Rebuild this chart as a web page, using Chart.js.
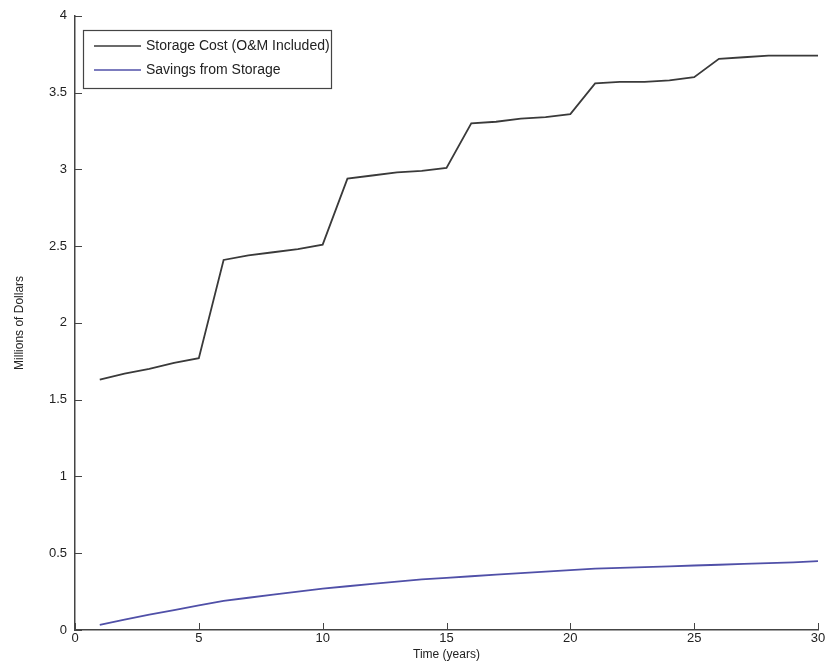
<!DOCTYPE html>
<html>
<head>
<meta charset="utf-8">
<script src="https://cdn.jsdelivr.net/npm/chart.js@4"></script>
<style>
  html, body { margin: 0; padding: 0; background: #fff; }
  #wrap { width: 828px; height: 662px; }
</style>
</head>
<body>
<div id="wrap"><canvas id="chart"></canvas></div>
<script>
// values
const years = [1, 2, 3, 4, 5, 6, 7, 8, 9, 10, 11, 12, 13, 14, 15,
  16, 17, 18, 19, 20, 21, 22, 23, 24, 25, 26, 27, 28, 29, 30];
const storageCost = [1.63, 1.67, 1.70, 1.74, 1.77, 2.41, 2.44, 2.46, 2.48, 2.51,
  2.94, 2.96, 2.98, 2.99, 3.01, 3.30, 3.31, 3.33, 3.34, 3.36,
  3.56, 3.57, 3.57, 3.58, 3.60, 3.72, 3.73, 3.74, 3.74, 3.74];
const savings = [0.034, 0.067, 0.10, 0.13, 0.16, 0.19, 0.21, 0.23, 0.25, 0.27,
  0.285, 0.30, 0.315, 0.33, 0.34, 0.35, 0.36, 0.37, 0.38, 0.39,
  0.40, 0.405, 0.41, 0.415, 0.42, 0.425, 0.43, 0.435, 0.44, 0.448];
const seriesNames = ['Storage Cost (O&M Included)', 'Savings from Storage'];
const xTicks = [0, 5, 10, 15, 20, 25, 30];
const yTicks = [0, 0.5, 1, 1.5, 2, 2.5, 3, 3.5, 4];

const font = 'Liberation Sans, Arial, sans-serif';

const toPoints = vals => years.map((x, i) => ({ x: x, y: vals[i] }));

// matlab style ticks pointing into the plot
const innerTicks = {
  id: 'innerTicks',
  afterDraw(chart) {
    const ctx = chart.ctx;
    const a = chart.chartArea;
    const xs = chart.scales.x, ys = chart.scales.y;
    ctx.save();
    ctx.strokeStyle = '#444';
    ctx.lineWidth = 1;
    ctx.beginPath();
    xTicks.forEach(v => {
      const px = Math.round(xs.getPixelForValue(v)) + 0.5;
      ctx.moveTo(px, a.bottom);
      ctx.lineTo(px, a.bottom - 7);
    });
    yTicks.forEach(v => {
      const py = Math.round(ys.getPixelForValue(v)) + 0.5;
      ctx.moveTo(a.left, py);
      ctx.lineTo(a.left + 7, py);
    });
    ctx.stroke();
    ctx.restore();
  }
};

// legend box in the upper left corner
const boxLegend = {
  id: 'boxLegend',
  afterDraw(chart) {
    const ctx = chart.ctx;
    const left = 83, top = 30, w = 248, h = 58;
    ctx.save();
    ctx.fillStyle = '#fff';
    ctx.fillRect(left, top, w, h);
    ctx.strokeStyle = '#444';
    ctx.lineWidth = 1.2;
    ctx.strokeRect(left + 0.5, top + 0.5, w, h);
    ctx.font = '14px ' + font;
    ctx.textBaseline = 'middle';
    chart.data.datasets.forEach((ds, i) => {
      const y = top + 16 + i * 24;
      ctx.strokeStyle = ds.borderColor;
      ctx.lineWidth = 1.5;
      ctx.beginPath();
      ctx.moveTo(left + 11, y);
      ctx.lineTo(left + 58, y);
      ctx.stroke();
      ctx.fillStyle = '#222';
      ctx.fillText(ds.label, left + 63, y);
    });
    ctx.restore();
  }
};

new Chart(document.getElementById('chart'), {
  type: 'line',
  data: {
    datasets: [{
      label: seriesNames[0],
      data: toPoints(storageCost),
      borderColor: '#3a3a3a',
      borderWidth: 1.8,
      pointRadius: 0,
      tension: 0
    }, {
      label: seriesNames[1],
      data: toPoints(savings),
      borderColor: '#5050a8',
      borderWidth: 1.8,
      pointRadius: 0,
      tension: 0
    }]
  },
  options: {
    responsive: true,
    maintainAspectRatio: false,
    animation: false,
    layout: { padding: { top: 13, right: 10, left: 0, bottom: 0 } },
    plugins: {
      legend: { display: false },
      title: { display: false },
      tooltip: { enabled: false }
    },
    scales: {
      x: {
        type: 'linear',
        min: 0,
        max: 30,
        afterBuildTicks: s => { s.ticks = xTicks.map(v => ({ value: v })); },
        afterFit: s => { s.height = 32; },
        grid: { display: false, drawTicks: false },
        border: { display: true, color: '#444', width: 1.5 },
        ticks: { color: '#222', font: { family: font, size: 13 }, padding: 1, maxRotation: 0, callback: v => String(v) },
        title: { display: true, text: 'Time (years)', color: '#222', font: { family: font, size: 12 }, padding: { top: 0, bottom: 0 } }
      },
      y: {
        min: 0,
        max: 4,
        afterBuildTicks: s => { s.ticks = yTicks.map(v => ({ value: v })); },
        afterFit: s => { s.width = 75; },
        grid: { display: false, drawTicks: false },
        border: { display: true, color: '#444', width: 1.5 },
        ticks: { color: '#222', font: { family: font, size: 13 }, padding: 8, callback: v => String(v) },
        title: { display: true, text: 'Millions of Dollars', color: '#222', font: { family: font, size: 12 }, padding: { top: 12, bottom: 0 } }
      }
    }
  },
  plugins: [innerTicks, boxLegend]
});
</script>
</body>
</html>
